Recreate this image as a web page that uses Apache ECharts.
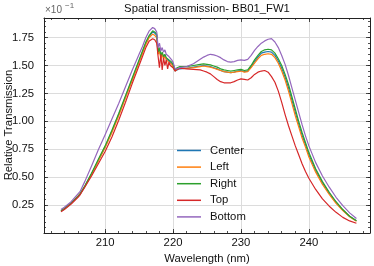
<!DOCTYPE html>
<html>
<head>
<meta charset="utf-8">
<script src="https://cdn.jsdelivr.net/npm/echarts@6/dist/echarts.min.js"></script>
<style>
html,body{margin:0;padding:0;background:#fff;}
#chart{width:374px;height:266px;}
</style>
</head>
<body>
<div id="chart"></div>
<script>
// Wavelength (nm)
var wavelength = [
  203.5, 204, 205, 206, 206.3, 207, 208, 209, 210, 211, 212, 213, 214, 215, 215.5, 216, 216.5, 217, 217.3, 217.6,
  217.8, 218.0, 218.2, 218.4, 218.6, 218.8, 219.0, 219.2, 219.4, 219.6, 219.8, 220.0, 220.3,
  220.6, 221, 222, 223, 224, 224.5, 225, 225.5, 226, 226.5, 227, 227.5, 228, 228.5, 229, 229.5, 230, 230.5, 231, 231.5, 232, 232.5, 233, 233.5, 234, 234.5,
  235, 235.5, 236, 236.5, 237, 237.5, 238, 238.5, 239, 239.5, 240, 241, 242, 243, 244, 245, 246, 247
];
// Relative transmission (x 10^-1)
var center = [
  0.195, 0.215, 0.265, 0.325, 0.345, 0.415, 0.53, 0.65, 0.77, 0.91, 1.06, 1.22, 1.38, 1.54, 1.62, 1.70, 1.76, 1.80, 1.79, 1.77,
  1.61, 1.65, 1.58, 1.61, 1.57, 1.59, 1.56, 1.57, 1.54, 1.54, 1.52, 1.50, 1.45,
  1.46, 1.47, 1.475, 1.485, 1.495, 1.50, 1.495, 1.49, 1.48, 1.47, 1.455, 1.445, 1.44, 1.435, 1.44, 1.45, 1.455, 1.445, 1.45, 1.49, 1.535, 1.575, 1.61, 1.62, 1.625, 1.62,
  1.59, 1.54, 1.475, 1.395, 1.30, 1.19, 1.08, 0.975, 0.875, 0.79, 0.70, 0.56, 0.45, 0.355, 0.275, 0.205, 0.15, 0.11
];
var left = [
  0.20, 0.22, 0.27, 0.33, 0.35, 0.415, 0.525, 0.645, 0.765, 0.90, 1.05, 1.21, 1.37, 1.53, 1.61, 1.69, 1.75, 1.78, 1.77, 1.75,
  1.60, 1.63, 1.56, 1.60, 1.56, 1.58, 1.55, 1.56, 1.53, 1.53, 1.51, 1.50, 1.45,
  1.465, 1.475, 1.475, 1.48, 1.49, 1.495, 1.49, 1.485, 1.475, 1.465, 1.455, 1.445, 1.44, 1.435, 1.44, 1.445, 1.45, 1.44, 1.445, 1.48, 1.52, 1.56, 1.59, 1.60, 1.605, 1.60,
  1.57, 1.52, 1.45, 1.37, 1.27, 1.16, 1.05, 0.95, 0.85, 0.77, 0.68, 0.545, 0.435, 0.345, 0.265, 0.20, 0.145, 0.105
];
var right = [
  0.20, 0.22, 0.27, 0.33, 0.35, 0.42, 0.535, 0.66, 0.78, 0.92, 1.07, 1.23, 1.39, 1.55, 1.63, 1.71, 1.77, 1.81, 1.80, 1.78,
  1.62, 1.66, 1.59, 1.62, 1.58, 1.60, 1.57, 1.58, 1.55, 1.55, 1.53, 1.51, 1.46,
  1.48, 1.49, 1.49, 1.50, 1.51, 1.515, 1.51, 1.505, 1.495, 1.485, 1.47, 1.46, 1.455, 1.45, 1.455, 1.46, 1.465, 1.455, 1.46, 1.50, 1.55, 1.59, 1.625, 1.64, 1.645, 1.64,
  1.61, 1.56, 1.50, 1.42, 1.33, 1.22, 1.11, 1.00, 0.90, 0.81, 0.72, 0.575, 0.46, 0.365, 0.28, 0.21, 0.15, 0.11
];
var top_ = [
  0.19, 0.21, 0.26, 0.32, 0.34, 0.41, 0.51, 0.62, 0.73, 0.86, 1.01, 1.17, 1.34, 1.50, 1.58, 1.66, 1.72, 1.74, 1.73, 1.70,
  1.58, 1.48, 1.60, 1.46, 1.57, 1.50, 1.55, 1.47, 1.53, 1.50, 1.51, 1.48, 1.45,
  1.465, 1.475, 1.47, 1.465, 1.46, 1.45, 1.44, 1.425, 1.40, 1.375, 1.355, 1.345, 1.345, 1.345, 1.355, 1.37, 1.38, 1.375, 1.37, 1.39, 1.42, 1.44, 1.45, 1.455, 1.44, 1.40,
  1.35, 1.27, 1.17, 1.06, 0.96, 0.87, 0.78, 0.70, 0.62, 0.55, 0.49, 0.39, 0.305, 0.24, 0.185, 0.14, 0.108, 0.087
];
var bottom = [
  0.21, 0.23, 0.28, 0.35, 0.37, 0.46, 0.60, 0.745, 0.88, 1.02, 1.16, 1.31, 1.46, 1.60, 1.67, 1.75, 1.81, 1.84, 1.83, 1.80,
  1.66, 1.70, 1.63, 1.66, 1.62, 1.64, 1.60, 1.61, 1.58, 1.57, 1.55, 1.53, 1.47,
  1.47, 1.48, 1.49, 1.515, 1.555, 1.575, 1.59, 1.60, 1.595, 1.585, 1.57, 1.55, 1.535, 1.53, 1.535, 1.545, 1.55, 1.545, 1.555, 1.59, 1.635, 1.67, 1.70, 1.72, 1.735, 1.74,
  1.71, 1.66, 1.59, 1.51, 1.41, 1.30, 1.19, 1.08, 0.97, 0.87, 0.78, 0.63, 0.51, 0.41, 0.32, 0.245, 0.18, 0.13
];
var seriesNames = ['Center', 'Left', 'Right', 'Top', 'Bottom'];
var xTicks = [210, 220, 230, 240];
var xMinorTicks = [202,204,206,208,210,212,214,216,218,220,222,224,226,228,230,232,234,236,238,240,242,244,246,248];
var yTicks = [0.25, 0.50, 0.75, 1.00, 1.25, 1.50, 1.75];
var yMinorTicks = [0.05,0.10,0.15,0.20,0.25,0.30,0.35,0.40,0.45,0.50,0.55,0.60,0.65,0.70,0.75,0.80,0.85,0.90,0.95,1.00,1.05,1.10,1.15,1.20,1.25,1.30,1.35,1.40,1.45,1.50,1.55,1.60,1.65,1.70,1.75,1.80,1.85,1.90];

var colors = ['#1f77b4', '#ff7f0e', '#2ca02c', '#d62728', '#9467bd'];
var FONT = 'Liberation Sans, Arial, sans-serif';
var FS = 11.3;
var AX = '#222';

function pairs(ys) { return wavelength.map(function (x, i) { return [x, ys[i]]; }); }
var allY = [center, left, right, top_, bottom];

function xAx(pos, vals, len, main) {
  return {
    type: 'value', position: pos, offset: 0, min: 201, max: 249,
    name: main ? 'Wavelength (nm)' : '', nameLocation: 'middle', nameGap: 17,
    nameTextStyle: { fontFamily: FONT, fontSize: FS, color: '#111' },
    axisLine: { show: main !== null, onZero: false, lineStyle: { color: AX, width: 1 } },
    axisTick: { show: true, inside: true, length: len, customValues: vals, lineStyle: { color: AX, width: 0.8 } },
    axisLabel: { show: !!main, customValues: vals, margin: 4, fontFamily: FONT, fontSize: FS, color: '#111', formatter: function (v) { return String(v); } },
    splitLine: { show: !!main, lineStyle: { color: '#dcdcdc', width: 1 } },
    minorTick: { show: false }
  };
}
function yAx(pos, vals, len, main) {
  return {
    type: 'value', position: pos, offset: 0, min: 0, max: 1.925,
    axisLine: { show: main !== null, onZero: false, lineStyle: { color: AX, width: 1 } },
    axisTick: { show: true, inside: true, length: len, customValues: vals, lineStyle: { color: AX, width: 0.8 } },
    axisLabel: { show: !!main, customValues: vals, margin: 10, fontFamily: FONT, fontSize: FS, color: '#111', formatter: function (v) { return v.toFixed(2); } },
    splitLine: { show: !!main, lineStyle: { color: '#dcdcdc', width: 1 } },
    minorTick: { show: false }
  };
}

var chart = echarts.init(document.getElementById('chart'), null, { renderer: 'canvas' });
chart.setOption({
  animation: false,
  backgroundColor: '#fff',
  color: colors,
  grid: { left: 44, right: 4, top: 18, bottom: 33, containLabel: false, outerBoundsMode: 'none' },
  xAxis: [
    xAx('bottom', xTicks, 4, true),
    xAx('bottom', xMinorTicks, 2, null),
    xAx('top', xTicks, 4, false),
    xAx('top', xMinorTicks, 2, null)
  ],
  yAxis: [
    yAx('left', yTicks, 4, true),
    yAx('left', yMinorTicks, 2, null),
    yAx('right', yTicks, 4, false),
    yAx('right', yMinorTicks, 2, null)
  ],
  legend: {
    orient: 'vertical', left: 172, top: 140,
    itemWidth: 24, itemHeight: 10, itemGap: 5.6,
    icon: 'path://M0,0 L24,0 L24,1.5 L0,1.5 Z',
    itemStyle: { borderWidth: 0 },
    textStyle: { fontFamily: FONT, fontSize: FS, color: '#111', padding: [0, 0, 0, 4] },
    data: seriesNames
  },
  graphic: [
    { type: 'text', x: 207, y: 3, style: { text: 'Spatial transmission- BB01_FW1', fontFamily: FONT, fontSize: FS, fill: '#111', textAlign: 'center' } },
    { type: 'text', x: 9, y: 125, rotation: Math.PI / 2, style: { text: 'Relative Transmission', fontFamily: FONT, fontSize: FS, fill: '#111', textAlign: 'center', textVerticalAlign: 'middle' } },
    { type: 'text', x: 45, y: 5, style: { text: '×10', fontFamily: FONT, fontSize: 10, fill: '#666' } },
    { type: 'text', x: 65, y: 2, style: { text: '−1', fontFamily: FONT, fontSize: 8, fill: '#666' } }
  ],
  series: seriesNames.map(function (n, i) {
    return {
      name: n, type: 'line', xAxisIndex: 0, yAxisIndex: 0,
      data: pairs(allY[i]), symbol: 'none', showSymbol: false,
      lineStyle: { width: 1.2, color: colors[i] }, itemStyle: { color: colors[i] }
    };
  })
});
</script>
</body>
</html>
